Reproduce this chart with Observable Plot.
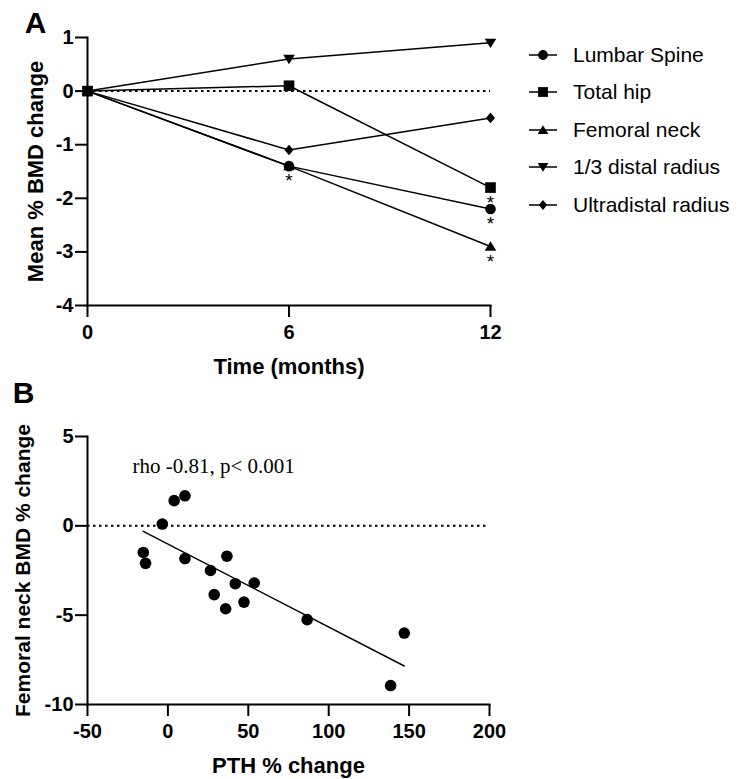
<!DOCTYPE html>
<html><head><meta charset="utf-8">
<script src="https://cdn.jsdelivr.net/npm/d3@7"></script>
<script src="https://cdn.jsdelivr.net/npm/@observablehq/plot@0.6"></script>
<style>
body{margin:0;background:#fff;font-family:"Liberation Sans",Arial,sans-serif;}
#wrap{position:relative;width:739px;height:779px;}
#wrap > svg{display:block;}
#legend{position:absolute;left:528px;top:36px;}
.lg-row{display:flex;align-items:center;height:37.5px;font-size:21px;color:#000;white-space:nowrap;}
.lg-row svg{margin-right:15px;display:block;}
</style></head><body><div id="wrap"><div id="legend"></div></div>
<script>
// ---- Panel A data ----
const months = [0, 6, 12];
const seriesNames = ["Lumbar Spine", "Total hip", "Femoral neck", "1/3 distal radius", "Ultradistal radius"];
const lumbarSpine = [0, -1.4, -2.2];
const totalHip = [0, 0.1, -1.8];
const femoralNeck = [0, -1.4, -2.9];
const distalRadius = [0, 0.6, 0.9];
const ultradistalRadius = [0, -1.1, -0.5];
const sigMonths = [6, 12, 12, 12];
const sigValues = [-1.4, -1.8, -2.2, -2.9];
const xTicksA = [0, 6, 12];
const yTicksA = [-4, -3, -2, -1, 0, 1];

// ---- Panel B data ----
const pthChange = [3.9, 10.6, -3.5, -15.3, -13.9, 10.6, 26.5, 36.7, 28.8, 35.9, 41.9, 47.3, 53.7, 86.6, 147, 138.5];
const fnBmdChange = [1.41, 1.68, 0.1, -1.49, -2.1, -1.83, -2.5, -1.7, -3.85, -4.64, -3.24, -4.27, -3.2, -5.25, -6.0, -8.94];
const xTicksB = [-50, 0, 50, 100, 150, 200];
const yTicksB = [-10, -5, 0, 5];
const annotation = "rho -0.81, p< 0.001";

// ---- symbols ----
const triUp = {draw(c, size){ const r = Math.sqrt(size/Math.PI); c.moveTo(0,-0.9*r); c.lineTo(r,0.73*r); c.lineTo(-r,0.73*r); c.closePath(); }};
const triDown = {draw(c, size){ const r = Math.sqrt(size/Math.PI); c.moveTo(0,0.9*r); c.lineTo(r,-0.73*r); c.lineTo(-r,-0.73*r); c.closePath(); }};
const diamond = {draw(c, size){ const r = Math.sqrt(size/Math.PI); c.moveTo(0,-r); c.lineTo(0.85*r,0); c.lineTo(0,r); c.lineTo(-0.85*r,0); c.closePath(); }};
const seriesValues = [lumbarSpine, totalHip, femoralNeck, distalRadius, ultradistalRadius];
const seriesSymbols = [d3.symbolCircle, d3.symbolSquare, triUp, triDown, diamond];
const seriesR = [5.3, 6.0, 5.8, 5.8, 5.3];

const rowsA = seriesNames.flatMap((name, s) => months.map((m, i) => ({series: name, month: m, value: seriesValues[s][i]})));
const sig = sigMonths.map((m, i) => ({month: m, value: sigValues[i]}));
const font = "Liberation Sans, Arial, sans-serif";
const fmt = d => String(d);

const plotA = Plot.plot({
  width: 739, height: 380,
  marginLeft: 87, marginRight: 249, marginTop: 37, marginBottom: 75,
  x: {domain: [0, 12]},
  y: {domain: [-4, 1]},
  style: {fontFamily: font, fontSize: "19px", fontWeight: "bold", color: "#000", background: "#fff", overflow: "visible"},
  marks: [
    Plot.ruleY([0], {x1: 0, x2: 12, stroke: "#000", strokeWidth: 2, strokeDasharray: "2.5,3.5"}),
    Plot.axisX({ticks: xTicksA, tickFormat: fmt, tickSize: 12, tickPadding: 7, strokeWidth: 2, label: null, fontSize: 20}),
    Plot.axisY({ticks: yTicksA, tickFormat: fmt, tickSize: 12, tickPadding: 2, strokeWidth: 2, label: null, fontSize: 20}),
    Plot.frame({anchor: "left", strokeWidth: 2}),
    Plot.frame({anchor: "bottom", strokeWidth: 2}),
    ...seriesNames.map((name, s) => Plot.line(rowsA.filter(d => d.series === name), {x: "month", y: "value", stroke: "#000", strokeWidth: 1.5})),
    ...seriesNames.map((name, s) => Plot.dot(rowsA.filter(d => d.series === name), {x: "month", y: "value", symbol: seriesSymbols[s], r: seriesR[s], fill: "#000", stroke: "none"})),
    Plot.text(sig, {x: "month", y: "value", text: () => "*", dy: 15, fontSize: 19, fontWeight: "normal"}),
    Plot.text(["Time (months)"], {frameAnchor: "bottom", textAnchor: "middle", lineAnchor: "middle", dy: 61, fontSize: 22}),
    Plot.text(["Mean % BMD change"], {frameAnchor: "left", textAnchor: "middle", lineAnchor: "middle", rotate: -90, dx: -52, fontSize: 22}),
    Plot.text(["A"], {frameAnchor: "top-left", textAnchor: "middle", lineAnchor: "middle", dx: -52, dy: -14, fontSize: 30})
  ]
});

const rowsB = pthChange.map((x, i) => ({pth: x, bmd: fnBmdChange[i]}));
const plotB = Plot.plot({
  width: 739, height: 399,
  marginLeft: 87, marginRight: 250, marginTop: 56, marginBottom: 75,
  x: {domain: [-50, 200]},
  y: {domain: [-10, 5]},
  style: {fontFamily: font, fontSize: "19px", fontWeight: "bold", color: "#000", background: "#fff", overflow: "visible"},
  marks: [
    Plot.ruleY([0], {stroke: "#000", strokeWidth: 2, strokeDasharray: "2.5,3.5"}),
    Plot.axisX({ticks: xTicksB, tickFormat: fmt, tickSize: 12, tickPadding: 7, strokeWidth: 2, label: null, fontSize: 20}),
    Plot.axisY({ticks: yTicksB, tickFormat: fmt, tickSize: 12, tickPadding: 2, strokeWidth: 2, label: null, fontSize: 20}),
    Plot.frame({anchor: "left", strokeWidth: 2}),
    Plot.frame({anchor: "bottom", strokeWidth: 2}),
    Plot.linearRegressionY(rowsB, {x: "pth", y: "bmd", ci: 0, stroke: "#000", strokeWidth: 1.5}),
    Plot.dot(rowsB, {x: "pth", y: "bmd", r: 5.8, fill: "#000", stroke: "none"}),
    Plot.text([annotation], {x: -22, y: 3.35, textAnchor: "start", fontFamily: "Liberation Serif, Times New Roman, serif", fontWeight: "normal", fontSize: 21}),
    Plot.text(["PTH % change"], {frameAnchor: "bottom", textAnchor: "middle", lineAnchor: "middle", dy: 61, fontSize: 22}),
    Plot.text(["Femoral neck BMD % change"], {frameAnchor: "left", textAnchor: "middle", lineAnchor: "middle", rotate: -90, dx: -64, fontSize: 21}),
    Plot.text(["B"], {frameAnchor: "top-left", textAnchor: "middle", lineAnchor: "middle", dx: -64, dy: -43, fontSize: 30})
  ]
});

const wrap = document.getElementById("wrap");
wrap.insertBefore(plotB, wrap.firstChild);
wrap.insertBefore(plotA, wrap.firstChild);

// legend
const legend = document.getElementById("legend");
seriesNames.forEach((name, s) => {
  const row = document.createElement("div");
  row.className = "lg-row";
  const sv = d3.create("svg").attr("width", 30).attr("height", 16);
  sv.append("line").attr("x1", 1).attr("x2", 29).attr("y1", 8).attr("y2", 8).attr("stroke", "#000").attr("stroke-width", 1.5);
  sv.append("path").attr("transform", "translate(15,8)")
    .attr("d", d3.symbol().type(seriesSymbols[s]).size(Math.PI * seriesR[s] * seriesR[s] * 0.85)()).attr("fill", "#000");
  row.appendChild(sv.node());
  const t = document.createElement("span");
  t.textContent = name;
  row.appendChild(t);
  legend.appendChild(row);
});
</script>
</body></html>
